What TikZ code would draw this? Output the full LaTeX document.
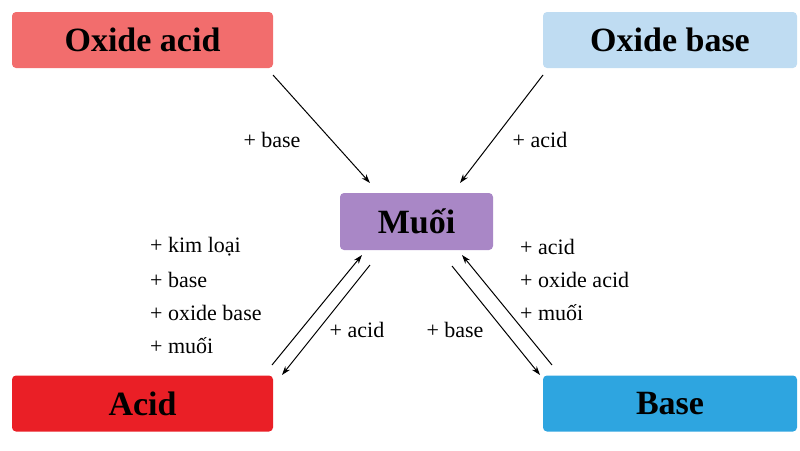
\documentclass[tikz,border=0pt]{standalone}
\usepackage{fontspec}
\setmainfont{Liberation Serif}
\usetikzlibrary{arrows.meta}
\begin{document}
\begin{tikzpicture}[x=1pt,y=-1pt,
  box/.style={rounded corners=4pt,minimum height=56pt,inner sep=0pt,font=\fontsize{34}{36}\selectfont\bfseries},
  lab/.style={font=\fontsize{22}{24}\selectfont,inner sep=0pt},
  conn/.style={line width=1pt,-{Stealth[length=9pt,width=6pt]}}]
\useasboundingbox (0,0) rectangle (800,450);
\definecolor{oa}{HTML}{F26D6D}\definecolor{ob}{HTML}{BFDCF2}
\definecolor{mu}{HTML}{A987C6}\definecolor{ac}{HTML}{EA1F26}\definecolor{ba}{HTML}{2EA5E0}
\node[box,fill=oa,minimum width=261pt] (oxa) at (142.5,40) {Oxide acid};
\node[box,fill=ob,minimum width=254pt] (oxb) at (670,40) {Oxide base};
\node[box,fill=mu,minimum width=153pt,minimum height=57pt] (m) at (416.5,221.5) {Muối};
\node[box,fill=ac,minimum width=261pt] (a) at (142.5,403.5) {Acid};
\node[box,fill=ba,minimum width=254pt] (b) at (670,403.5) {Base};
\coordinate (p1) at (273,75); \coordinate (q1) at (370,183);
\coordinate (p2) at (543,75); \coordinate (q2) at (460,183);
\coordinate (p3) at (272,365); \coordinate (q3) at (362,255);
\coordinate (p4) at (370,265); \coordinate (q4) at (282,375);
\coordinate (p5) at (452,266); \coordinate (q5) at (540,375);
\coordinate (p6) at (552,365); \coordinate (q6) at (462,255);
\draw[conn] (p1) -- (q1);
\draw[conn] (p2) -- (q2);
\draw[conn] (p3) -- (q3);
\draw[conn] (p4) -- (q4);
\draw[conn] (p5) -- (q5);
\draw[conn] (p6) -- (q6);
\node[lab] (l1) at (272,140) {+ base};
\node[lab] (l2) at (540,140) {+ acid};
\node[lab] (l3) at (357,330) {+ acid};
\node[lab] (l4) at (455,330) {+ base};
\node[lab,anchor=west] (k1) at (150,247) {+ kim loại};
\node[lab,anchor=west] (k2) at (150,280) {+ base};
\node[lab,anchor=west] (k3) at (150,313) {+ oxide base};
\node[lab,anchor=west] (k4) at (150,346) {+ muối};
\node[lab,anchor=west] (r1) at (520,247) {+ acid};
\node[lab,anchor=west] (r2) at (520,280) {+ oxide acid};
\node[lab,anchor=west] (r3) at (520,313) {+ muối};
\end{tikzpicture}
\end{document}
